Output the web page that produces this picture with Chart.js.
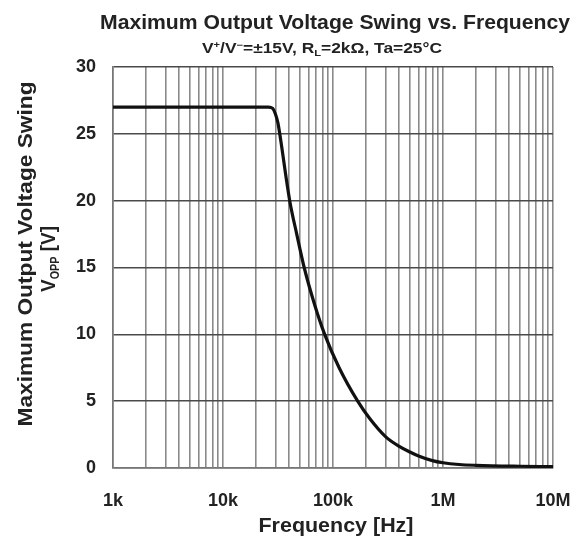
<!DOCTYPE html>
<html>
<head>
<meta charset="utf-8">
<script src="https://cdn.jsdelivr.net/npm/chart.js@4.4.0/dist/chart.umd.min.js"></script>
<style>
  html, body { margin: 0; padding: 0; background: #fff; }
  #chart { display: block; }
</style>
</head>
<body>
<canvas id="chart" width="582" height="538"></canvas>
<script>
// Data (frequency in Hz, swing in V)
const freqHz = [1000, 10000, 25900, 28300, 29900, 31600, 32800, 40400, 46800, 54700,
                68200, 84000, 113700, 167700, 215600, 300000, 400000, 500000, 600000,
                800000, 1000000, 1400000, 2000000, 5000000, 10000000];
const swingV = [27, 27, 27, 26.9, 26.5, 25.8, 25, 20, 17.5, 15,
                12.2, 10, 7.5, 5, 3.7, 2.35, 1.62, 1.2, 0.9,
                0.55, 0.39, 0.26, 0.2, 0.13, 0.1];

// Axis ticks
const xGridValues = [];
for (let d = 1000; d < 10000000; d *= 10) {
    for (let m = 1; m <= 9; m++) xGridValues.push(d * m);
}
xGridValues.push(10000000);
const xTickLabels = { 1000: '1k', 10000: '10k', 100000: '100k', 1000000: '1M', 10000000: '10M' };
const yTickValues = [0, 5, 10, 15, 20, 25, 30];

const FONT = "'Liberation Sans', Arial, sans-serif";
const TEXT = '#222';

// draws text runs centred on cx, optionally stretched to a target width
function drawRuns(ctx, parts, cx, baseY, target) {
    ctx.save();
    ctx.textAlign = 'left';
    let total = 0;
    parts.forEach(p => { ctx.font = p[1]; total += ctx.measureText(p[0]).width; });
    const s = target ? target / total : 1;
    ctx.translate(cx, baseY);
    ctx.scale(s, 1);
    let x = -total / 2;
    parts.forEach(p => {
        ctx.font = p[1];
        ctx.fillText(p[0], x, p[2]);
        x += ctx.measureText(p[0]).width;
    });
    ctx.restore();
}

// Texts drawn by hand (need super/subscripts)
const textPlugin = {
    id: 'texts',
    afterDraw(chart) {
        const ctx = chart.ctx;
        ctx.save();
        ctx.fillStyle = TEXT;
        ctx.textBaseline = 'alphabetic';

        // main title
        drawRuns(ctx, [['Maximum Output Voltage Swing vs. Frequency', `bold 21px ${FONT}`, 0]], 335, 29, 470);

        // subtitle with super/subscripts
        const big = `bold 14px ${FONT}`;
        const small = `bold 9px ${FONT}`;
        drawRuns(ctx, [
            ['V', big, 0], ['+', small, -5], ['/V', big, 0], ['\u2212', small, -5],
            ['=\u00b115V, R', big, 0], ['L', small, 3], ['=2k\u03a9, Ta=25\u00b0C', big, 0]
        ], 322, 53, 240);

        // x axis title
        drawRuns(ctx, [['Frequency [Hz]', `bold 21px ${FONT}`, 0]], 336, 532, 155);

        // y axis title, two rotated lines
        ctx.save();
        ctx.translate(32, 254);
        ctx.rotate(-Math.PI / 2);
        drawRuns(ctx, [['Maximum Output Voltage Swing', `bold 21px ${FONT}`, 0]], 0, 0, 345);
        ctx.restore();

        ctx.save();
        ctx.translate(55, 259);
        ctx.rotate(-Math.PI / 2);
        drawRuns(ctx, [['V', `bold 21px ${FONT}`, 0], ['OPP', `bold 12px ${FONT}`, 4], [' [V]', `bold 21px ${FONT}`, 0]], 0, 0, 66);
        ctx.restore();

        ctx.restore();
    }
};

const ctx = document.getElementById('chart').getContext('2d');
new Chart(ctx, {
    type: 'line',
    data: {
        datasets: [{
            data: freqHz.map((f, i) => ({ x: f, y: swingV[i] })),
            borderColor: '#111',
            borderWidth: 3.2,
            pointRadius: 0,
            fill: false,
            cubicInterpolationMode: 'monotone'
        }]
    },
    options: {
        responsive: false,
        animation: false,
        layout: { padding: { top: 67, right: 29, bottom: 0, left: 0 } },
        plugins: {
            legend: { display: false },
            tooltip: { enabled: false }
        },
        scales: {
            x: {
                type: 'logarithmic',
                min: 1000,
                max: 10000000,
                afterBuildTicks: scale => { scale.ticks = xGridValues.map(v => ({ value: v })); },
                afterFit: scale => { scale.height = 70; scale.paddingLeft = 0; scale.paddingRight = 0; },
                grid: { color: '#8a8a8a', lineWidth: 1.6, drawTicks: false },
                border: { color: '#777', width: 1.6 },
                ticks: {
                    autoSkip: false,
                    maxRotation: 0,
                    padding: 22,
                    color: TEXT,
                    font: { family: FONT, size: 18, weight: 'bold' },
                    callback: v => xTickLabels[v] || ''
                }
            },
            y: {
                min: 0,
                max: 30,
                afterBuildTicks: scale => { scale.ticks = yTickValues.map(v => ({ value: v })); },
                afterFit: scale => { scale.width = 113; scale.paddingTop = 0; scale.paddingBottom = 0; },
                grid: { color: '#4a4a4a', lineWidth: 1.6, drawTicks: false },
                border: { color: '#777', width: 1.6 },
                ticks: {
                    padding: 17,
                    color: TEXT,
                    font: { family: FONT, size: 18, weight: 'bold' }
                }
            }
        }
    },
    plugins: [textPlugin]
});
</script>
</body>
</html>
